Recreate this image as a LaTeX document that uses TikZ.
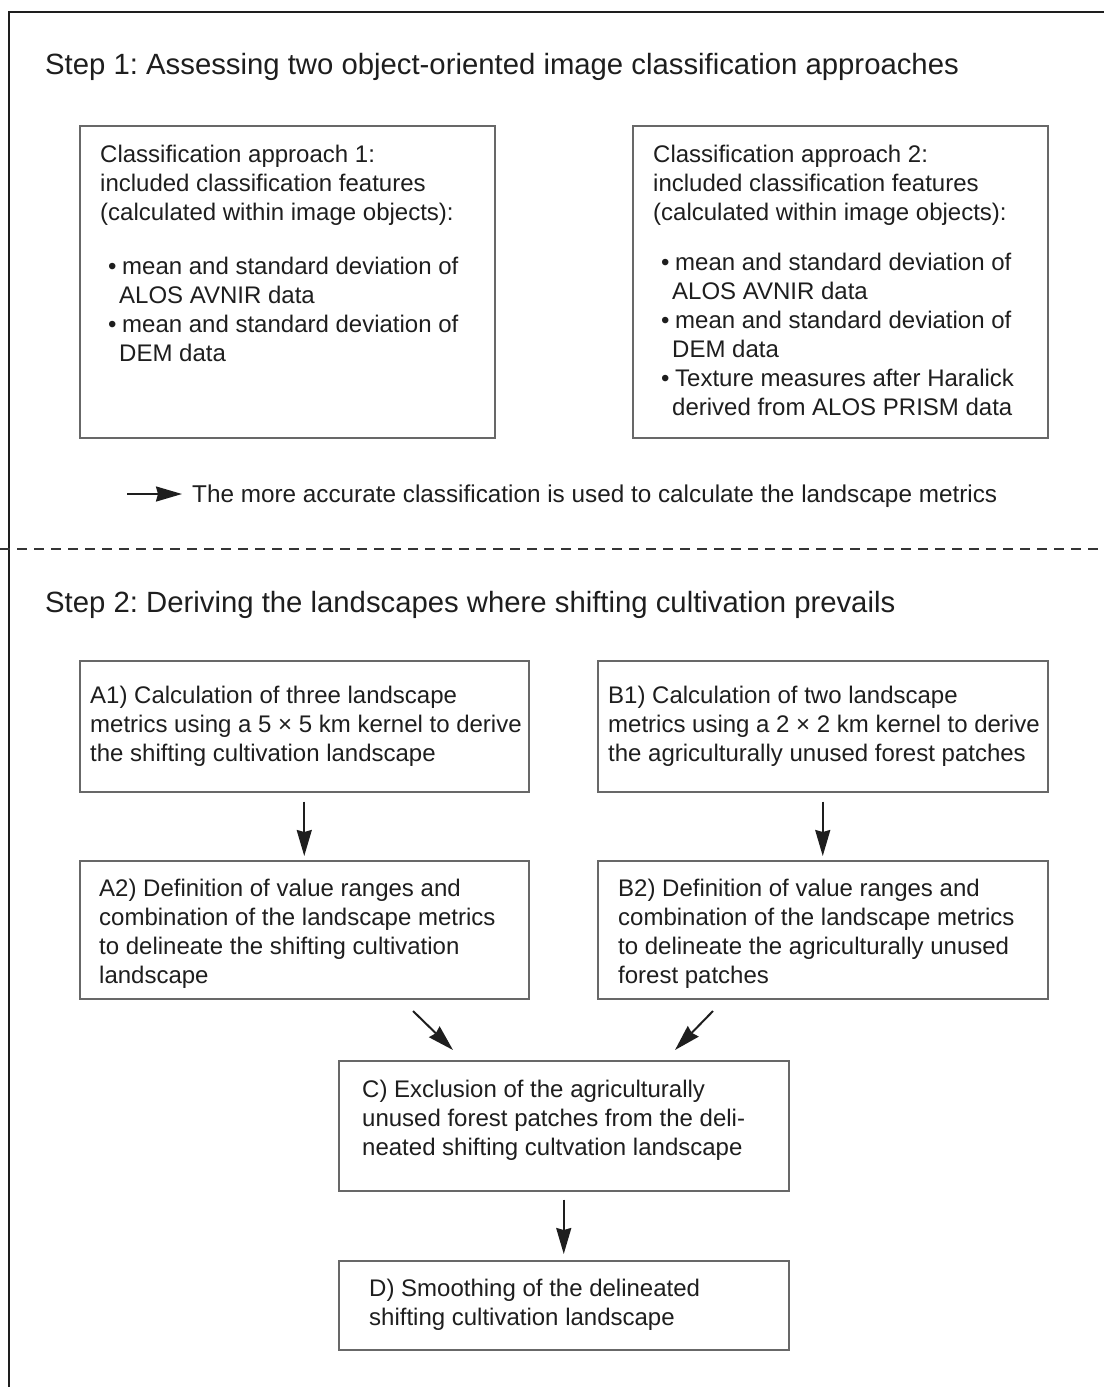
\documentclass[tikz,border=0pt]{standalone}
\usepackage{fontspec}
\setmainfont{Liberation Sans}
\usetikzlibrary{arrows.meta}
\definecolor{boxgray}{HTML}{686868}
\definecolor{ink}{HTML}{1E1E1E}
\frenchspacing
\newcommand\mystrut{\rule{0pt}{20pt}}
\newcommand\tstrut{\rule{0pt}{22pt}}
\newcommand\bul{\makebox[14pt][l]{•}}
\newcommand\cont{\hspace*{11pt}}
\begin{document}
\begin{tikzpicture}[x=1pt,y=-1pt,
  box/.style={draw=boxgray, line width=1.5pt, inner sep=0pt, anchor=north west},
  txt/.style={anchor=north west, inner sep=0pt, align=left, text=ink, font=\fontsize{24}{29}\selectfont},
  ttl/.style={anchor=north west, inner sep=0pt, text=ink, font=\fontsize{29.3}{34}\selectfont},
  arr/.style={draw=ink, line width=2pt, -{Stealth[length=26pt,width=15pt,inset=2pt]}},
  frameline/.style={draw=ink, line width=1.5pt},
  sepline/.style={draw=ink!90, line width=2pt, dash pattern=on 10pt off 7pt}
]
\useasboundingbox (0,0) rectangle (1104,1387);
\fill[white] (0,0) rectangle (1104,1387);

% outer frame (top and left only)
\draw[frameline] (9,1387) -- (9,12) -- (1104,12);

% Step 1
\node[ttl] (t1) at (45,52) {\tstrut Step 1: Assessing two object-oriented image classification approaches};

\node[box, minimum width=415pt, minimum height=312pt] (cls1) at (79,125) {};
\node[txt] (cls1t) at (100,142) {\mystrut Classification approach 1:\\ included classification features\\ (calculated within image objects):};
\node[txt] (cls1b) at (108,254) {\mystrut\bul mean and standard deviation of\\ \cont ALOS AVNIR data\\ \bul mean and standard deviation of\\ \cont DEM data};

\node[box, minimum width=415pt, minimum height=312pt] (cls2) at (632,125) {};
\node[txt] (cls2t) at (653,142) {\mystrut Classification approach 2:\\ included classification features\\ (calculated within image objects):};
\node[txt] (cls2b) at (661,250) {\mystrut\bul mean and standard deviation of\\ \cont ALOS AVNIR data\\ \bul mean and standard deviation of\\ \cont DEM data\\ \bul Texture measures after Haralick\\ \cont derived from ALOS PRISM data};

\coordinate (l0) at (127,494);
\node[txt, font=\fontsize{24.3}{29}\selectfont] (legend) at (192,482) {\mystrut The more accurate classification is used to calculate the landscape metrics};
\draw[arr, shorten >=10pt] (l0) -- (l0 -| legend.west);

% separator
\draw[sepline] (0,549) -- (1104,549);

% Step 2
\node[ttl] (t2) at (45,590) {\tstrut Step 2: Deriving the landscapes where shifting cultivation prevails};

\node[box, minimum width=449pt, minimum height=131pt] (a1) at (79,660) {};
\node[txt] (a1t) at (90,683) {\mystrut A1) Calculation of three landscape\\ metrics using a 5 × 5 km kernel to derive\\ the shifting cultivation landscape};

\node[box, minimum width=450pt, minimum height=131pt] (b1) at (597,660) {};
\node[txt] (b1t) at (608,683) {\mystrut B1) Calculation of two landscape\\ metrics using a 2 × 2 km kernel to derive\\ the agriculturally unused forest patches};

\node[box, minimum width=449pt, minimum height=138pt] (a2) at (79,860) {};
\node[txt] (a2t) at (99,876) {\mystrut A2) Definition of value ranges and\\ combination of the landscape metrics\\ to delineate the shifting cultivation\\ landscape};

\node[box, minimum width=450pt, minimum height=138pt] (b2) at (597,860) {};
\node[txt] (b2t) at (618,876) {\mystrut B2) Definition of value ranges and\\ combination of the landscape metrics\\ to delineate the agriculturally unused\\ forest patches};

\node[box, minimum width=450pt, minimum height=130pt] (c) at (338,1060) {};
\node[txt] (ct) at (362,1077) {\mystrut C) Exclusion of the agriculturally\\ unused forest patches from the deli-\\ neated shifting cultvation landscape};

\node[box, minimum width=450pt, minimum height=89pt] (d) at (338,1260) {};
\node[txt] (dt) at (369,1276) {\mystrut D) Smoothing of the delineated\\ shifting cultivation landscape};

% connectors
\draw[arr, shorten <=9pt, shorten >=4pt] (a1.south) -- (a2.north);
\draw[arr, shorten <=9pt, shorten >=4pt] (b1.south) -- (b2.north);
\coordinate (ac0) at (413,1011);
\coordinate (ac1) at (453,1050);
\coordinate (bc0) at (713,1011);
\coordinate (bc1) at (675,1050);
\draw[arr] (ac0) -- (ac1);
\draw[arr] (bc0) -- (bc1);
\draw[arr, shorten <=8pt, shorten >=6pt] (c.south) -- (d.north);
\end{tikzpicture}
\end{document}
